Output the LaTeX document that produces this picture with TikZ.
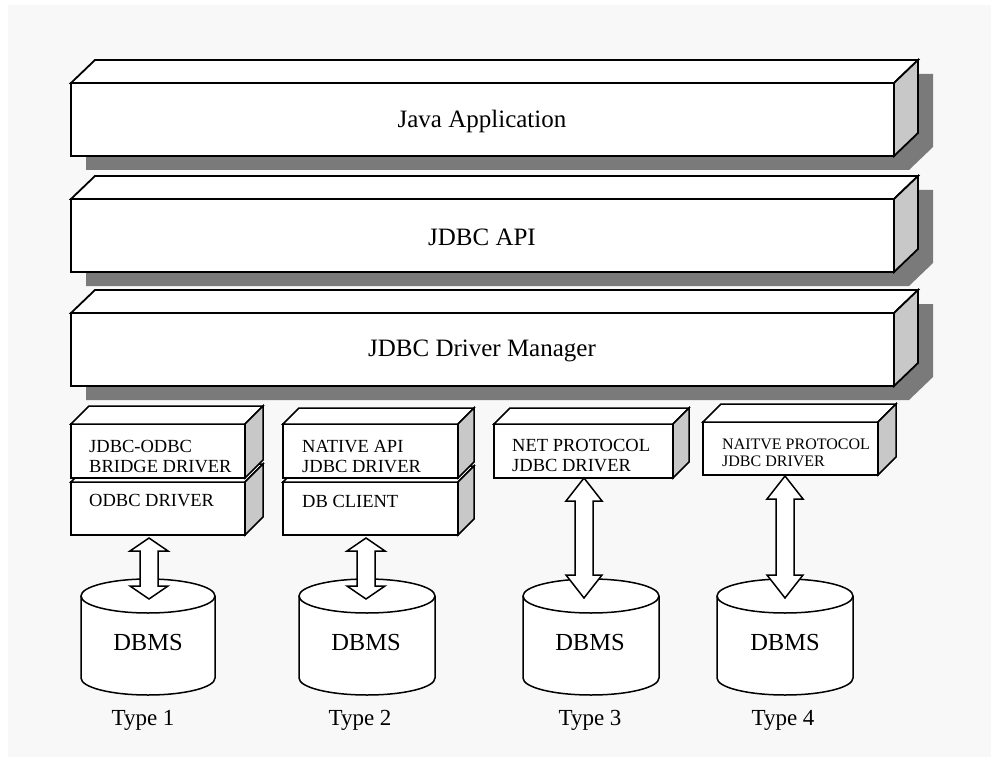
\documentclass[tikz,border=0pt]{standalone}
\usepackage{fontspec}
\setmainfont{Liberation Serif}
\definecolor{bg}{RGB}{248,248,248}
\definecolor{sidegray}{RGB}{200,200,200}
\definecolor{shadowgray}{RGB}{122,122,122}
\tikzset{
  face/.style={draw=black, line width=1.8pt, fill=white, line join=miter},
  side/.style={draw=black, line width=1.8pt, fill=sidegray, line join=miter},
  sface/.style={draw=black, line width=1.5pt, fill=white, line join=miter},
  sside/.style={draw=black, line width=1.5pt, fill=sidegray, line join=miter},
  shadowfill/.style={fill=shadowgray, draw=none},
  cylface/.style={draw=black, line width=1.5pt, fill=white},
  blockarrow/.style={draw=black, line width=1.5pt, fill=white, line join=miter},
  bigtext/.style={font=\fontsize{25}{29}\selectfont, inner sep=0pt},
  drvtext/.style={font=\fontsize{18.5}{20}\selectfont, align=left, anchor=west, inner sep=0pt},
  drvsmall/.style={font=\fontsize{16}{17}\selectfont, align=left, anchor=west, inner sep=0pt},
  dbtext/.style={font=\fontsize{24.5}{28}\selectfont, inner sep=0pt},
  typetext/.style={font=\fontsize{23}{27}\selectfont, inner sep=0pt},
}
% big 3D slab with shadow: #1 front top y, #2 front bottom y
\newcommand{\jdbcbigslab}[2]{%
  \fill[shadowfill] (86,#1+14) -- (110,#1-9) -- (933,#1-9) -- (933,#2-9) -- (909,#2+14) -- (86,#2+14) -- cycle;
  \draw[face] (71,#1) rectangle (894,#2);
  \draw[face] (71,#1) -- (95,#1-23) -- (918,#1-23) -- (894,#1) -- cycle;
  \draw[side] (894,#1) -- (918,#1-23) -- (918,#2-23) -- (894,#2) -- cycle;
}
% small 3D slab: #1 left, #2 right, #3 top, #4 bottom, #5 depth
\newcommand{\jdbcsmallslab}[5]{%
  \draw[sface] (#1,#3) rectangle (#2,#4);
  \draw[sface] (#1,#3) -- (#1+#5,#3-#5) -- (#2+#5,#3-#5) -- (#2,#3) -- cycle;
  \draw[sside] (#2,#3) -- (#2+#5,#3-#5) -- (#2+#5,#4-#5) -- (#2,#4) -- cycle;
}
% cylinder: #1 center x, #2 x radius
\newcommand{\jdbccyl}[2]{%
  \draw[cylface] (#1-#2,596) -- (#1-#2,678) arc[start angle=180, end angle=0, x radius=#2, y radius=17] -- (#1+#2,596);
  \draw[cylface] (#1,596) ellipse [x radius=#2, y radius=17];
}
% double block arrow: #1 center x, #2 top tip y, #3 bottom tip y, #4 head length, #5 head half width
\newcommand{\jdbcarrow}[5]{%
  \draw[blockarrow] (#1,#2) -- (#1+#5,#2+#4) -- (#1+9,#2+#4) -- (#1+9,#3-#4) -- (#1+#5,#3-#4)
    -- (#1,#3) -- (#1-#5,#3-#4) -- (#1-9,#3-#4) -- (#1-9,#2+#4) -- (#1-#5,#2+#4) -- cycle;
}
\begin{document}
\begin{tikzpicture}[x=1pt, y=-1pt]
  \useasboundingbox (0,0) rectangle (991,757);
  \fill[white] (0,0) rectangle (991,757);
  \fill[bg] (8,5) rectangle (991,757);

  % big layers
  \jdbcbigslab{83}{156}
  \jdbcbigslab{199}{272}
  \jdbcbigslab{313}{386}
  \node[bigtext] (app) at (482,121) {Java Application};
  \node[bigtext] (api) at (482,237) {JDBC API};
  \node[bigtext] (mgr) at (482,351) {JDBC Driver Manager};

  % driver boxes
  \jdbcsmallslab{71}{245}{482}{535}{18}
  \jdbcsmallslab{71}{245}{424}{478}{18}
  \jdbcsmallslab{283}{458}{482}{535}{16}
  \jdbcsmallslab{283}{458}{424}{478}{16}
  \jdbcsmallslab{494}{673}{424}{478}{16}
  \jdbcsmallslab{703}{878}{422}{475}{18}

  \node[drvtext] (bridge) at (89,457) {JDBC-ODBC\\BRIDGE DRIVER};
  \node[drvtext] (odbc) at (89,501) {ODBC DRIVER};
  \node[drvtext] (native) at (302,457) {NATIVE API\\JDBC DRIVER};
  \node[drvtext] (client) at (302,501) {DB CLIENT};
  \node[drvtext] (net) at (512,456) {NET PROTOCOL\\JDBC DRIVER};
  \node[drvsmall] (proto) at (722,453) {NAITVE PROTOCOL\\JDBC DRIVER};

  % databases
  \jdbccyl{148}{67}
  \jdbccyl{367}{68}
  \jdbccyl{591}{68}
  \jdbccyl{785}{68}
  \node[dbtext] (db1) at (148,643) {DBMS};
  \node[dbtext] (db2) at (366,643) {DBMS};
  \node[dbtext] (db3) at (590,643) {DBMS};
  \node[dbtext] (db4) at (785,643) {DBMS};
  \node[typetext] (t1) at (143,720) {Type 1};
  \node[typetext] (t2) at (360,720) {Type 2};
  \node[typetext] (t3) at (590,720) {Type 3};
  \node[typetext] (t4) at (783,720) {Type 4};

  % arrows
  \jdbcarrow{149}{538}{599}{13}{19}
  \jdbcarrow{366}{538}{599}{13}{19}
  \jdbcarrow{584}{478}{598}{23}{18}
  \jdbcarrow{785}{476}{598}{23}{18}
\end{tikzpicture}
\end{document}
